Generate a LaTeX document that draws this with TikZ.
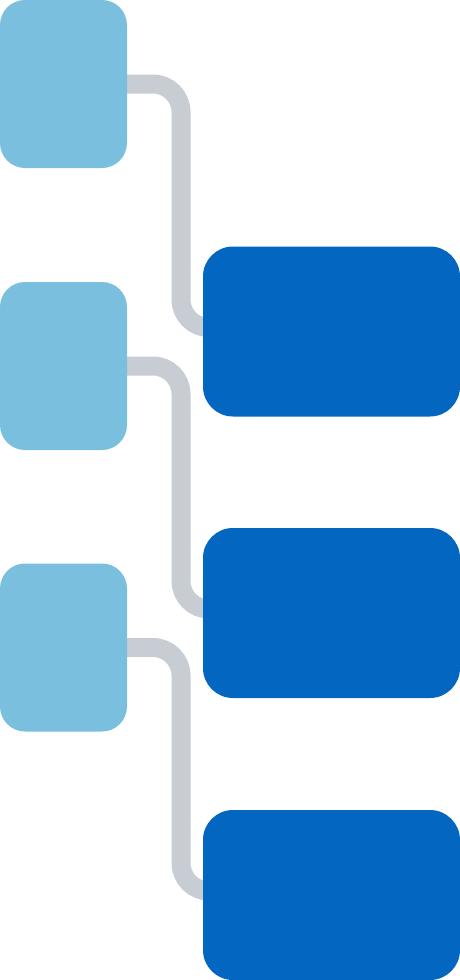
\documentclass[tikz,border=0pt]{standalone}
\usetikzlibrary{backgrounds}
\definecolor{lightblue}{RGB}{123,191,223}
\definecolor{darkblue}{RGB}{3,102,192}
\definecolor{conngray}{RGB}{200,205,212}
\begin{document}
\begin{tikzpicture}[x=1pt,y=1pt,
  lightbox/.style={fill=lightblue,draw=none,rounded corners=25pt,minimum width=127pt,minimum height=168pt,inner sep=0pt},
  darkbox/.style={fill=darkblue,draw=none,rounded corners=30pt,minimum width=257pt,minimum height=170pt,inner sep=0pt},
  conn/.style={draw=conngray,line width=19pt,rounded corners=28pt}]
\useasboundingbox (0,0) rectangle (460,-980);
\node[lightbox] (l1) at (63.5,-84) {};
\node[lightbox] (l2) at (63.5,-366) {};
\node[lightbox] (l3) at (63.5,-647.5) {};
\node[darkbox] (d1) at (331.5,-331.5) {};
\node[darkbox] (d2) at (331.5,-613) {};
\node[darkbox] (d3) at (331.5,-895) {};
\coordinate (k1) at (181,-84);
\coordinate (k2) at (181,-366);
\coordinate (k3) at (181,-647.5);
\begin{scope}[on background layer]
\draw[conn] ([xshift=-10pt]l1.east) -- (k1) |- ([xshift=10pt,yshift=4pt]d1.west);
\draw[conn] ([xshift=-10pt]l2.east) -- (k2) |- ([xshift=10pt,yshift=4pt]d2.west);
\draw[conn] ([xshift=-10pt]l3.east) -- (k3) |- ([xshift=10pt,yshift=4pt]d3.west);
\end{scope}
\end{tikzpicture}
\end{document}
